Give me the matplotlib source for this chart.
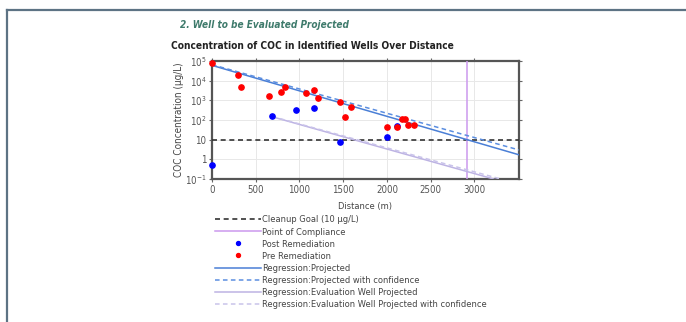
import matplotlib
matplotlib.use("Agg")
import matplotlib.pyplot as plt
from matplotlib.lines import Line2D
from matplotlib.ticker import NullLocator

plt.rcParams['font.family'] = ['DejaVu Sans']
plt.rcParams['font.stretch'] = 'condensed'

# Pre remediation samples (distance in m, concentration in ug/L)
pre_dist = [0, 300, 335, 650, 790, 840, 1080, 1170, 1215, 1460, 1520, 1590,
            2000, 2120, 2175, 2205, 2240, 2310]
pre_conc = [80000, 19000, 5000, 1600, 2800, 4700, 2400, 3300, 1300, 820, 144, 460,
            42, 42, 117, 107, 57, 53]

# Post remediation samples
post_dist = [5, 690, 965, 1170, 1460, 2000, 2120]
post_conc = [0.52, 160, 316, 400, 8, 14, 49]

# Regression lines (end points)
proj_x = [0, 3510]
proj_y = [60000, 1.7]
proj_conf_x = [0, 3510]
proj_conf_y = [65000, 3.0]
eval_x = [690, 3220]
eval_y = [145, 0.1]
eval_conf_x = [690, 3300]
eval_conf_y = [150, 0.1]

cleanup_goal = 10
compliance_x = 2910

xticks = [0, 500, 1000, 1500, 2000, 2500, 3000]
yticks = [0.1, 1, 10, 100, 1000, 10000, 100000]
ytick_labels = ['$10^{-1}$', '1', '10', '$10^{2}$', '$10^{3}$', '$10^{4}$', '$10^{5}$']

fig = plt.figure(figsize=(6.86, 3.22), dpi=100)
W, H = 686, 322

# page frame lines of the screenshot
fig.add_artist(Line2D([7 / W, 1], [1 - 9.5 / H, 1 - 9.5 / H], color='#5d7384', lw=1.6))
fig.add_artist(Line2D([7 / W, 7 / W], [0, 1 - 9.5 / H], color='#5d7384', lw=1.6))

fig.text(180 / W, 1 - 25 / H, '2. Well to be Evaluated Projected', fontsize=7.2,
         fontweight='bold', fontstyle='italic', color='#3f7b6c', ha='left', va='center')
fig.text(312 / W, 1 - 46 / H, 'Concentration of COC in Identified Wells Over Distance',
         fontsize=7.3, fontweight='bold', color='#222222', ha='center', va='center')

ax = fig.add_axes([212 / W, 1 - 179 / H, 307 / W, 118 / H])
ax.set_yscale('log')

ax.axhline(cleanup_goal, color='#333333', lw=1.2, ls=(0, (3, 2.2)), zorder=3,
           label='Cleanup Goal (10 µg/L)')
ax.axvline(compliance_x, color='#cc99ee', lw=1.1, zorder=3, label='Point of Compliance')
ax.plot(post_dist, post_conc, 'o', color='#0000ff', ms=3.8, ls='none', zorder=5,
        clip_on=False, label='Post Remediation')
ax.plot(pre_dist, pre_conc, 'o', color='#ff0000', ms=3.8, ls='none', zorder=6,
        clip_on=False, label='Pre Remediation')
ax.plot(proj_x, proj_y, color='#4a7fd6', lw=1.1, zorder=4, label='Regression:Projected')
ax.plot(proj_conf_x, proj_conf_y, color='#5b8ee0', lw=1.1, ls=(0, (3, 2.2)), zorder=4,
        label='Regression:Projected with confidence')
ax.plot(eval_x, eval_y, color='#bdb3e3', lw=1.1, zorder=4,
        label='Regression:Evaluation Well Projected')
ax.plot(eval_conf_x, eval_conf_y, color='#c9c3ea', lw=1.1, ls=(0, (3, 2.2)), zorder=4,
        label='Regression:Evaluation Well Projected with confidence')

ax.set_xlim(0, 3510)
ax.set_ylim(0.1, 100000)
ax.set_xticks(xticks)
ax.set_yticks(yticks)
ax.set_yticklabels(ytick_labels)
ax.yaxis.set_minor_locator(NullLocator())
ax.grid(True, color='#e8e8e8', lw=0.7)
ax.set_axisbelow(True)
ax.tick_params(which='both', direction='out', length=2.5, width=0.8, color='#666666',
               labelsize=6.9, labelcolor='#555555', pad=1.5,
               top=True, right=True)
for s in ax.spines.values():
    s.set_color('#555555')
    s.set_linewidth(1.6)

ax.set_xlabel('Distance (m)', fontsize=6.7, color='#444444', labelpad=5)
ax.set_ylabel('COC Concentration (µg/L)', fontsize=7.1, color='#444444', labelpad=1)

h, l = ax.get_legend_handles_labels()
fig.legend(h, l, loc='upper left', bbox_to_anchor=(215 / W, 1 - 215.5 / H), frameon=False,
           fontsize=6.7, labelcolor='#444444', handlelength=4.95, handletextpad=0.12,
           labelspacing=0.33, borderpad=0, borderaxespad=0, markerscale=0.75)

fig.savefig('out.png', dpi=100)
